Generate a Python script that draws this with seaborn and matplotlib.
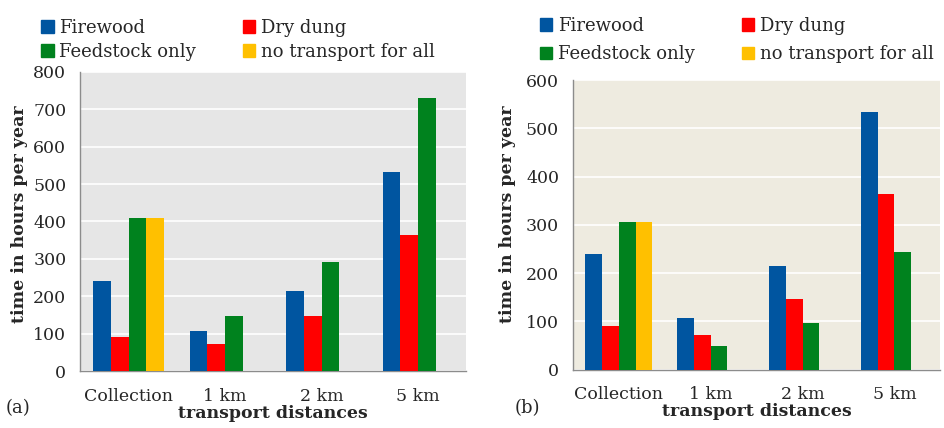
import matplotlib
matplotlib.use("Agg")
import matplotlib.pyplot as plt
import seaborn as sns
import numpy as np
import pandas as pd

# data
distances = ["Collection", "1 km", "2 km", "5 km"]
series = ["Firewood", "Dry dung", "Feedstock only", "no transport for all"]
colors = ["#0055a0", "#ff0000", "#00821e", "#ffc000"]

firewood_a = [240, 107, 213, 533]
drydung_a = [90, 72, 147, 365]
feedstock_a = [410, 147, 293, 730]
notransport_a = [410, np.nan, np.nan, np.nan]

firewood_b = [240, 107, 215, 533]
drydung_b = [90, 73, 146, 363]
feedstock_b = [305, 49, 97, 243]
notransport_b = [305, np.nan, np.nan, np.nan]


def to_long(cols):
    rows = {"Distance": [], "Series": [], "Hours": []}
    for name, vals in zip(series, cols):
        for d, v in zip(distances, vals):
            rows["Distance"].append(d)
            rows["Series"].append(name)
            rows["Hours"].append(v)
    return pd.DataFrame(rows)


df_a = to_long([firewood_a, drydung_a, feedstock_a, notransport_a])
df_b = to_long([firewood_b, drydung_b, feedstock_b, notransport_b])

sns.set_style("white")
plt.rcParams["font.family"] = ["DejaVu Serif"]

fig = plt.figure(figsize=(9.44, 4.28), dpi=100)
ax_a = fig.add_axes([0.085, 0.133, 0.409, 0.699])
ax_b = fig.add_axes([0.607, 0.136, 0.389, 0.677])


def panel(ax, df, bg, ymax, ylab_x, legend_x, legend_y, row_gap):
    sns.barplot(data=df, x="Distance", y="Hours", hue="Series", order=distances,
                hue_order=series, palette=colors, width=0.73, saturation=1,
                linewidth=0, ax=ax, legend=False, zorder=3)
    ax.set_facecolor(bg)
    ax.set_ylim(0, ymax)
    ax.set_xlim(-0.5, 3.5)
    ax.set_yticks(np.arange(0, ymax + 1, 100))
    ax.grid(axis="y", color="white", linewidth=1.2, zorder=0)
    ax.set_axisbelow(True)
    for s in ["top", "right"]:
        ax.spines[s].set_visible(False)
    for s in ["left", "bottom"]:
        ax.spines[s].set_color("#8c8c8c")
        ax.spines[s].set_linewidth(1.0)
    # category borders as major ticks, names on minor ticks
    ax.set_xticks([-0.5, 0.5, 1.5, 2.5, 3.5], minor=False)
    ax.set_xticklabels([])
    ax.set_xticks([0, 1, 2, 3], minor=True)
    ax.set_xticklabels(distances, minor=True, fontsize=12.5)
    ax.tick_params(axis="x", which="major", direction="out", length=5,
                   color="#8c8c8c", width=1)
    ax.tick_params(axis="x", which="minor", length=0, pad=12)
    ax.tick_params(axis="y", direction="out", length=4, color="#8c8c8c",
                   width=1, labelsize=12.5, pad=6)
    ax.set_xlabel("transport distances", fontsize=12.5, fontweight="bold", labelpad=0)
    ax.set_ylabel("")
    fig.text(ylab_x, 0.5, "time in hours per year", rotation=90, fontsize=12.5,
             fontweight="bold", ha="center", va="center")
    # legend filled row-wise like the original
    order = [0, 2, 1, 3]
    handles = [plt.Rectangle((0, 0), 1, 1, color=colors[i]) for i in order]
    labels = [series[i] for i in order]
    ax.legend(handles, labels, ncol=2, loc="lower left",
              bbox_to_anchor=(legend_x, legend_y), frameon=False, fontsize=13,
              handlelength=0.7, handleheight=0.7, handletextpad=0.3,
              columnspacing=2.6, labelspacing=row_gap, borderaxespad=0.2)
    return ax


panel(ax_a, df_a, "#e6e6e6", 800, 0.021, -0.13, 1.0, 0.35)
panel(ax_b, df_b, "#eeebe0", 600, 0.538, -0.12, 1.02, 0.6)

fig.text(0.006, 0.035, "(a)", fontsize=13)
fig.text(0.545, 0.035, "(b)", fontsize=13)

fig.savefig("out.png", dpi=100)
